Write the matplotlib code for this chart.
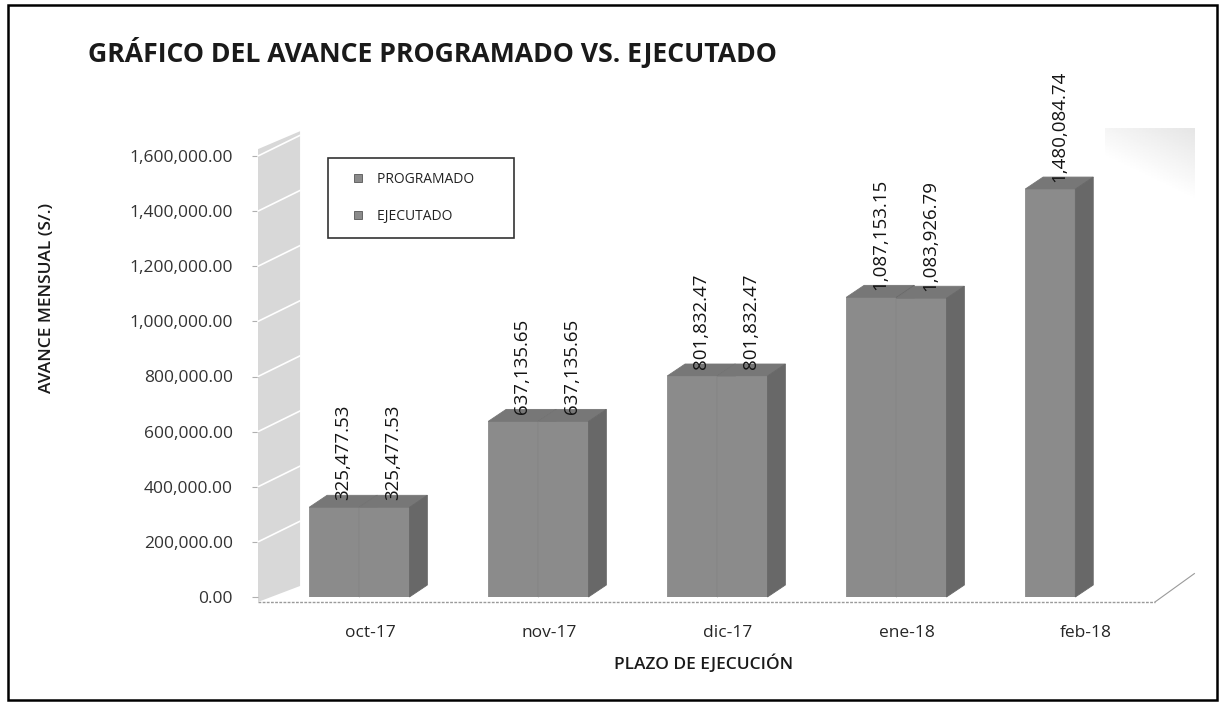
import numpy as np
import matplotlib
matplotlib.use("Agg")
import matplotlib.pyplot as plt
from matplotlib.lines import Line2D
from matplotlib.patches import Rectangle, Polygon
from matplotlib.legend_handler import HandlerLine2D

plt.rcParams['font.family'] = ['Open Sans', 'DejaVu Sans']

meses = ['oct-17', 'nov-17', 'dic-17', 'ene-18', 'feb-18']
programado = [325477.53, 637135.65, 801832.47, 1087153.15, 1480084.74]
ejecutado = [325477.53, 637135.65, 801832.47, 1083926.79, np.nan]
series = ['PROGRAMADO', 'EJECUTADO']

W, H = 1221, 706
fig = plt.figure(figsize=(W / 100, H / 100), dpi=100)
ax = fig.add_axes([258 / W, (H - 597) / H, 897 / W, 441 / H])
ax.set_xlim(-0.626, 4.385)
ax.set_ylim(0, 1600000)

c_front, c_side, c_top = '#8b8b8b', '#686868', '#777777'
w = 0.28      # ancho de cada barra
shift = -0.06 # barras un poco a la izquierda de la etiqueta
dx = 0.10     # profundidad 3D
dy = 43500

x = np.arange(len(meses))

def barra3d(xl, h, label):
    if np.isnan(h):
        return
    ax.bar(xl, h, width=w, align='edge', color=c_front, edgecolor=c_front, lw=0.6, zorder=3)
    ax.add_patch(Polygon([(xl, h), (xl + dx, h + dy), (xl + w + dx, h + dy), (xl + w, h)],
                         closed=True, facecolor=c_top, edgecolor=c_top, lw=0.6, zorder=3, clip_on=False))
    ax.add_patch(Polygon([(xl + w, 0), (xl + w + dx, dy), (xl + w + dx, h + dy), (xl + w, h)],
                         closed=True, facecolor=c_side, edgecolor=c_side, lw=0.6, zorder=3, clip_on=False))
    ax.text(xl + w / 2 + dx / 2, h + dy * 0.6, label, rotation=90, ha='center', va='bottom',
            fontsize=13.5, color='#141414', zorder=5, clip_on=False)

for i in range(len(meses)):
    g = x[i] + shift
    barra3d(g - w, programado[i], f'{programado[i]:,.2f}')
    barra3d(g, ejecutado[i], '' if np.isnan(ejecutado[i]) else f'{ejecutado[i]:,.2f}')

# pared izquierda
x0 = ax.get_xlim()[0]
ww = 0.235
wall = Polygon([(x0, -18000), (x0 + ww, 40000), (x0 + ww, 1690000), (x0, 1625000)],
               closed=True, facecolor='#d8d8d8', edgecolor='none', zorder=1, clip_on=False)
ax.add_patch(wall)
for yv in np.arange(200000, 1600001, 200000):
    ax.plot([x0, x0 + ww], [yv, yv + 75000], color='white', lw=1.2, zorder=2, clip_on=False)

# piso
ax.plot([x0, ax.get_xlim()[1]], [-18000, -18000], color='#9a9a9a', lw=1, ls=(0, (2, 1)),
        zorder=2, clip_on=False)
ax.plot([ax.get_xlim()[1], ax.get_xlim()[1] + 0.22], [-18000, 85000], color='#9a9a9a', lw=0.8,
        zorder=2, clip_on=False)

for s in ax.spines.values():
    s.set_visible(False)
ax.set_xticks(x)
ax.set_xticklabels(meses, fontsize=12.5, color='#262626')
ax.tick_params(axis='x', length=0, pad=20)
ax.set_yticks(np.arange(0, 1600001, 200000))
ax.set_yticklabels([f'{v:,.2f}' for v in np.arange(0, 1600001, 200000)], fontsize=12.5, color='#333333')
ax.tick_params(axis='y', length=4, color='#b0b0b0', pad=14)
ax.patch.set_visible(False)

# pared del fondo (esquina superior derecha)
gax = fig.add_axes([1105 / W, (H - 200) / H, 90 / W, 72 / H])
gy = np.linspace(0.90, 1.0, 50)[:, None]
gx = np.linspace(0.06, 0.0, 60)[None, :]
gax.imshow(np.clip(gy + gx, 0, 1), cmap='gray', vmin=0, vmax=1, aspect='auto')
gax.axis('off')

fig.text(88 / W, 1 - 52 / H, 'GRÁFICO DEL AVANCE PROGRAMADO VS. EJECUTADO', fontsize=19.2,
         fontweight='bold', color='#1a1a1a', va='center', ha='left')
fig.text(47 / W, 1 - 298 / H, 'AVANCE MENSUAL (S/.)', rotation=90, fontsize=12.5, fontweight='semibold',
         color='#1a1a1a', ha='center', va='center')
fig.text(704 / W, 1 - 664 / H, 'PLAZO DE EJECUCIÓN', fontsize=12.5, fontweight='semibold',
         color='#1a1a1a', ha='center', va='center')


class MarcaDerecha(HandlerLine2D):
    def get_xdata(self, legend, xdescent, ydescent, width, height, fontsize):
        xd = np.array([-xdescent, -xdescent + width])
        return xd, np.array([-xdescent + width - 4])


handles = [Line2D([], [], ls='none', marker='s', markersize=6, markerfacecolor='#8b8b8b',
                  markeredgecolor='#555555', markeredgewidth=0.6) for _ in series]
leg = ax.legend(handles, [s + '       ' for s in series], loc='upper left',
                bbox_to_anchor=(328 / W, 1 - 158 / H),
                bbox_transform=fig.transFigure, fontsize=10, frameon=True, fancybox=False,
                handlelength=2.3, handletextpad=0.25, labelspacing=1.6, borderpad=1.0,
                borderaxespad=0, handler_map={Line2D: MarcaDerecha(numpoints=1)})
leg.get_frame().set_edgecolor('black')
leg.get_frame().set_linewidth(1.2)
for t in leg.get_texts():
    t.set_color('#222222')

fig.patches.append(Rectangle((8 / W, 6 / H), 1209 / W, 695 / H, transform=fig.transFigure,
                             fill=False, edgecolor='black', lw=1.8))

fig.savefig('out.png', dpi=100)
